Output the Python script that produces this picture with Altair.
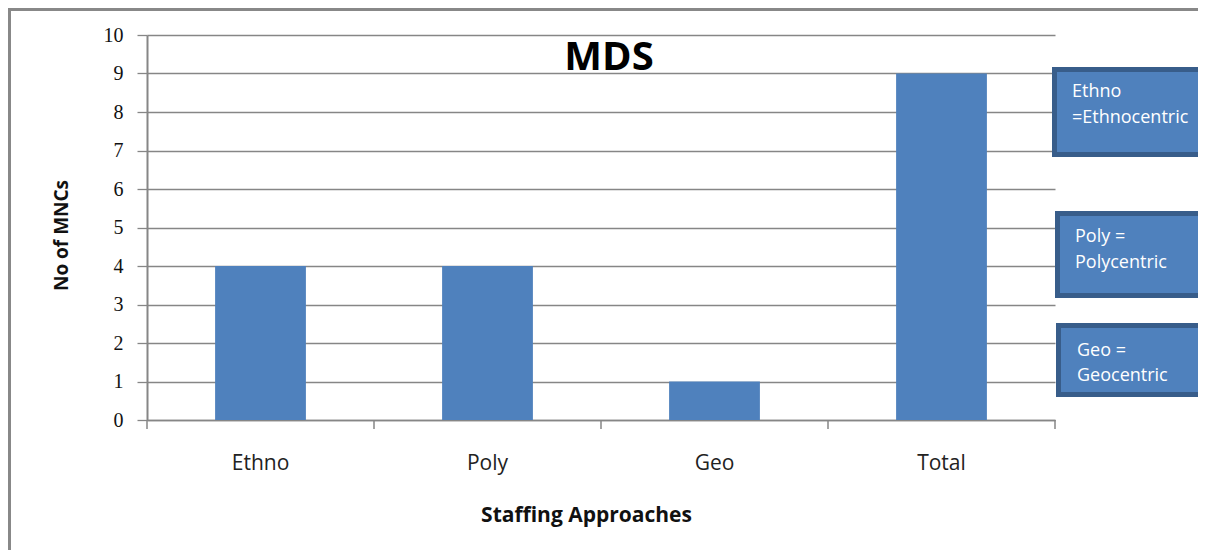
import altair as alt
import pandas as pd

categories = ["Ethno", "Poly", "Geo", "Total"]
values = [4, 4, 1, 9]
box_lines = [["Ethno", "=Ethnocentric"], ["Poly =", "Polycentric"], ["Geo =", "Geocentric"]]

W, H = 908, 385
PL, PT = 139, 27

df = pd.DataFrame({"cat": categories, "val": values})

bars = alt.Chart(df).mark_bar(color="#4f81bd").encode(
    x=alt.X("cat:N", sort=categories,
            scale=alt.Scale(paddingInner=0.6, paddingOuter=0.3),
            axis=alt.Axis(title="Staffing Approaches", labelAngle=0, ticks=False,
                          labelFont="Open Sans", labelFontSize=21, labelColor="#222",
                          labelPadding=32,
                          domainColor="#868686", domainWidth=1.5,
                          titleFont="Open Sans", titleFontSize=21, titleFontWeight="bold",
                          titleColor="#111", titlePadding=31, titleX=439)),
    y=alt.Y("val:Q", scale=alt.Scale(domain=[0, 10]),
            axis=alt.Axis(title="No of MNCs", values=list(range(0, 11)), grid=True,
                          gridColor="#868686", gridWidth=1.3,
                          labelFont="Liberation Serif", labelFontSize=20, labelColor="#111",
                          labelPadding=14, tickSize=10, tickColor="#868686", tickWidth=1.3,
                          domainColor="#868686", domainWidth=2,
                          titleFont="Open Sans", titleFontSize=19, titleFontWeight="bold",
                          titleColor="#111", titlePadding=32, titleY=200)),
)

title = alt.Chart(pd.DataFrame({"t": ["MDS"]})).mark_text(
    font="Open Sans", fontSize=40, fontWeight="bold", color="#000", baseline="alphabetic"
).encode(text="t:N", x=alt.value(462), y=alt.value(35))

tick_x = [0, 227, 454, 681, 908]
layers = [bars, title]
for tx in tick_x:
    layers.append(alt.Chart(pd.DataFrame({"a": [0]})).mark_rule(color="#868686", strokeWidth=1.5).encode(
        x=alt.value(tx), y=alt.value(H), y2=alt.value(H + 9)))

boxes_pos = [(905, 1058, 32, 122), (908, 1058, 176, 263), (909, 1058, 288, 362)]
text_pos = [(925, 62, 88), (928, 207, 233), (930, 321, 346)]
for (x1, x2, y1, y2), (tx, ty1, ty2), lines in zip(boxes_pos, text_pos, box_lines):
    layers.append(alt.Chart(pd.DataFrame({"a": [0]})).mark_rect(
        color="#4f81bd", stroke="#385d8a", strokeWidth=5
    ).encode(x=alt.value(x1 + 2.5), x2=alt.value(x2), y=alt.value(y1 + 2.5), y2=alt.value(y2 - 2.5)))
    for line, ty in zip(lines, (ty1, ty2)):
        layers.append(alt.Chart(pd.DataFrame({"t": [line]})).mark_text(
            font="Open Sans", fontSize=18, color="white", align="left", baseline="alphabetic"
        ).encode(text="t:N", x=alt.value(tx), y=alt.value(ty)))

frame_left = alt.Chart(pd.DataFrame({"a": [0]})).mark_rule(color="#888888", strokeWidth=3).encode(
    x=alt.value(-137.5), y=alt.value(-26), y2=alt.value(H + 130))
frame_top = alt.Chart(pd.DataFrame({"a": [0]})).mark_rule(color="#888888", strokeWidth=3).encode(
    x=alt.value(-139), x2=alt.value(W + 143), y=alt.value(-25.5))
layers += [frame_left, frame_top]

chart = alt.layer(*layers).properties(
    width=W, height=H,
    background="white",
    autosize=alt.AutoSizeParams(type="none"),
    padding={"left": PL, "top": PT, "right": 143, "bottom": 130},
).configure_view(strokeWidth=0, stroke="transparent")

chart.save("out.html", embed_options={"renderer": "svg", "actions": False})
